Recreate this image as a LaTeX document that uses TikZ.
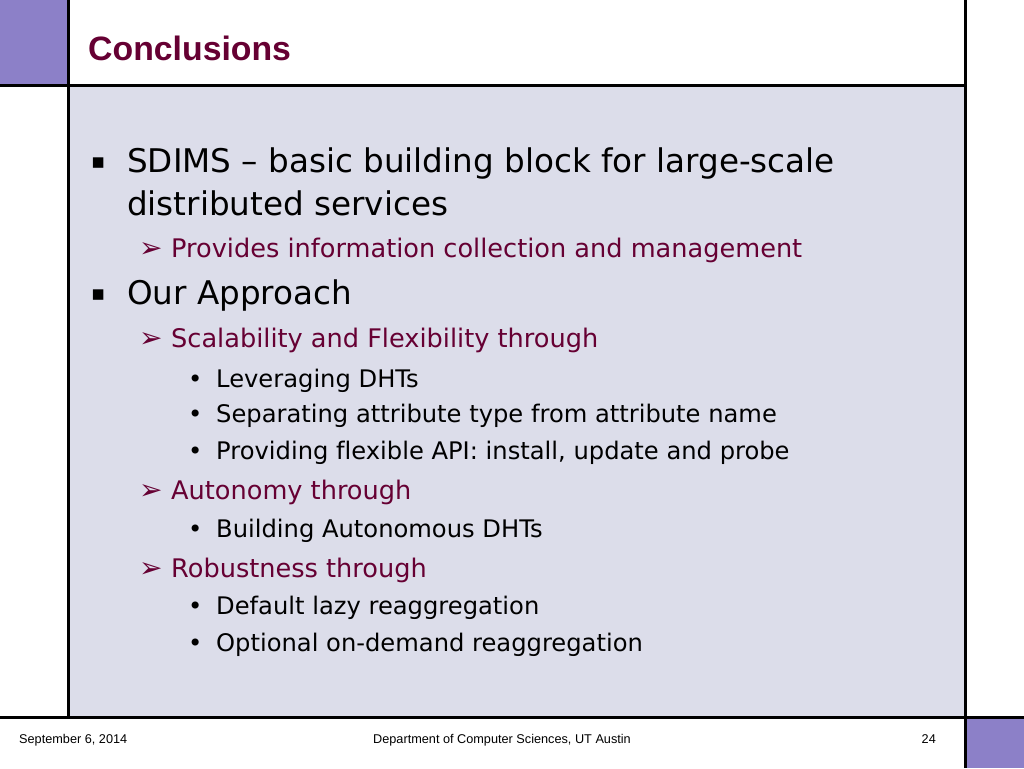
\documentclass[tikz,border=0pt]{standalone}
\usepackage{fontspec}
\setmainfont{Liberation Sans}
\newfontfamily\bodyfont[Ligatures=CommonOff]{DejaVu Sans}
\usetikzlibrary{positioning}

\definecolor{slidepurple}{HTML}{8C80C8}
\definecolor{slidebody}{HTML}{DCDDEA}
\definecolor{slidemaroon}{HTML}{660033}

\begin{document}
\begin{tikzpicture}[x=1pt, y=-1pt,
  frame/.style={line width=3pt, black},
  lvlone/.style={anchor=base west, inner sep=0pt, font=\bodyfont\fontsize{32.6}{36}\selectfont},
  lvltwo/.style={anchor=base west, inner sep=0pt, text=slidemaroon, font=\bodyfont\fontsize{25.6}{30}\selectfont},
  lvlthree/.style={anchor=base west, inner sep=0pt, font=\bodyfont\fontsize{24.2}{28}\selectfont},
  squaremark/.style={anchor=base west, inner sep=0pt, font=\bodyfont\fontsize{21}{24}\selectfont},
  arrowmark/.style={lvltwo, font=\bodyfont\fontsize{28}{30}\selectfont},
  footer/.style={inner sep=0pt, anchor=base, font=\fontsize{12.7}{14}\selectfont}]
\useasboundingbox (0,0) rectangle (1024,768);

% background blocks
\fill[white] (0,0) rectangle (1024,768);
\fill[slidebody] (68,85) rectangle (965,717);
\fill[slidepurple] (0,0) rectangle (68,85);
\fill[slidepurple] (965,717) rectangle (1024,768);

% frame lines
\draw[frame] (68,0) -- (68,717);
\draw[frame] (0,85) -- (965,85);
\draw[frame] (965,0) -- (965,768);
\draw[frame] (0,717) -- (1024,717);

\node[anchor=base west, inner sep=0pt, text=slidemaroon, font=\bfseries\fontsize{33.8}{40}\selectfont] (title) at (88,60) {Conclusions};

% first bullet
\node[squaremark] (dot_a) at (91,168) {▪};
\node[lvlone] (sdims) at (127,172) {SDIMS – basic building block for large-scale};
\node[lvlone] (sdims_b) at (127,215) {distributed services};
\node[arrowmark] (arr_a) at (139,257) {➢};
\node[lvltwo] (provides) at (171,257) {Provides information collection and management};

% second bullet
\node[squaremark] (dot_b) at (91,300) {▪};
\node[lvlone] (approach) at (127,304) {Our Approach};
\node[arrowmark] (arr_b) at (139,347) {➢};
\node[lvltwo] (scal) at (171,347) {Scalability and Flexibility through};
\node[lvlthree] (pt_a) at (188,387) {•};
\node[lvlthree] (dhts) at (216,387) {Leveraging DHTs};
\node[lvlthree] (pt_b) at (188,422) {•};
\node[lvlthree] (separate) at (216,422) {Separating attribute type from attribute name};
\node[lvlthree] (pt_c) at (188,459) {•};
\node[lvlthree] (api) at (216,459) {Providing flexible API: install, update and probe};
\node[arrowmark] (arr_c) at (139,499) {➢};
\node[lvltwo] (auto) at (171,499) {Autonomy through};
\node[lvlthree] (pt_d) at (188,537) {•};
\node[lvlthree] (build) at (216,537) {Building Autonomous DHTs};
\node[arrowmark] (arr_d) at (139,577) {➢};
\node[lvltwo] (robust) at (171,577) {Robustness through};
\node[lvlthree] (pt_e) at (188,614) {•};
\node[lvlthree] (lazy) at (216,614) {Default lazy reaggregation};
\node[lvlthree] (pt_f) at (188,651) {•};
\node[lvlthree] (demand) at (216,651) {Optional on-demand reaggregation};

% footer
\node[footer, anchor=base west] (date) at (19,743) {September 6, 2014};
\node[footer] (dept) at (502,743) {Department of Computer Sciences, UT Austin};
\node[footer, anchor=base east] (page) at (936,743) {24};
\end{tikzpicture}
\end{document}
